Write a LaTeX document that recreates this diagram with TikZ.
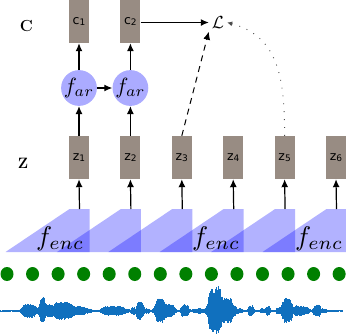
\documentclass[tikz,border=0pt]{standalone}
\usepackage{fontspec}
\newfontfamily\dejavu{DejaVu Sans}
\usetikzlibrary{arrows.meta}
\definecolor{boxgray}{RGB}{152,140,131}
\definecolor{wave}{RGB}{16,112,190}
\definecolor{dotgreen}{RGB}{0,128,0}
\tikzset{
 vec/.style={fill=boxgray, minimum width=20pt, minimum height=43pt, inner sep=0pt, font=\dejavu\fontsize{12.5}{12.5}\selectfont},
 arnode/.style={circle, fill=blue!33, minimum size=35pt, inner sep=0pt},
 arr/.style={-{Latex[length=8pt,width=7pt]}, line width=1.2pt},
 enc/.style={fill=blue, fill opacity=0.3, draw=none},
 enclabel/.style={inner sep=0pt, anchor=west},
 rowlabel/.style={inner sep=0pt},
 gdot/.style={fill=dotgreen, draw=none},
}
\newcommand{\sub}[1]{\raisebox{-0.25ex}{\fontsize{9}{9}\selectfont #1}}
\begin{document}
\begin{tikzpicture}[x=1pt,y=-1pt]
\useasboundingbox (0,0) rectangle (346,333);
% encoder trapezoids
\foreach \i in {0,...,5}{
  \pgfmathsetmacro\R{89.5+51.4*\i}
  \fill[enc] (\R-84,252) -- (\R-20,209) -- (\R,209) -- (\R,252) -- cycle;
  \coordinate (e\i) at (\R-10,209);
}
\node[enclabel] (fe1) at (36,239) {\scalebox{2.7}{$f_{enc}$}};
\node[enclabel] (fe2) at (192,239) {\scalebox{2.7}{$f_{enc}$}};
\node[enclabel] (fe3) at (295,239) {\scalebox{2.7}{$f_{enc}$}};
% z boxes
\foreach \i in {1,...,6}{
  \pgfmathsetmacro\cx{79+51.4*(\i-1)}
  \node[vec] (z\i) at (\cx,157.5) {z\sub{\i}};
}
\foreach \i [evaluate=\i as \j using int(\i-1)] in {1,...,6}{
  \draw[arr] (e\j) -- (z\i.south);
}
% context boxes
\node[vec] (c1) at (79,21.5) {c\sub{1}};
\node[vec] (c2) at (130.4,21.5) {c\sub{2}};
% autoregressive
\node[arnode] (a1) at (79,88) {\scalebox{2.2}{$f_{ar}$}};
\node[arnode] (a2) at (130.4,88) {\scalebox{2.2}{$f_{ar}$}};
\draw[arr] (z1.north) -- (a1.south);
\draw[arr] (z2.north) -- (a2.south);
\draw[arr] (a1.north) -- (c1.south);
\draw[arr] (a2.north) -- (c2.south);
\draw[arr] (a1.east) -- (a2.west);
% loss
\node[inner sep=3pt] (L) at (218,22.5) {\scalebox{1.75}{$\mathcal{L}$}};
\draw[arr, line width=1pt] (c2.east |- L.west) -- (L.west);
\draw[arr, line width=1pt, dash pattern=on 6pt off 5pt] (z3.north) -- (L.south west);
\draw[-{Latex[length=5pt,width=5pt]}, line width=0.9pt, dash pattern=on 0.9pt off 7pt, black!70] (z5.north) to[out=90, in=-15, looseness=1.1] (L.east);
% row labels
\node[rowlabel, font=\bfseries\fontsize{16}{16}\selectfont] (C) at (26.5,26) {C};
\node[rowlabel, font=\bfseries\fontsize{15}{15}\selectfont] (Z) at (23,163) {Z};
% green dots
\foreach \i in {0,...,13}{
  \fill[gdot] (7+25.55*\i,274) ellipse (6.5pt and 7pt);
}
% waveform
\pgfmathsetseed{11}
\foreach \x in {0,0.8,...,343}{
  \pgfmathsetmacro\e{0.6
   + 7/(1+min(abs(\x-29)/7,4)^6) + 12/(1+min(abs(\x-42)/3,4)^6)
   + 5/(1+min(abs(\x-48)/4,4)^6) + 9/(1+min(abs(\x-62)/9,4)^6)
   + 4/(1+min(abs(\x-78)/7,4)^6) + 1.5/(1+min(abs(\x-88)/4,4)^6)
   + 4.5/(1+min(abs(\x-114)/12,4)^6)
   + 3/(1+min(abs(\x-133)/2,4)^6)
   + 9/(1+min(abs(\x-140)/3.5,4)^6) + 2/(1+min(abs(\x-147)/3,4)^6)
   + 12/(1+min(abs(\x-160)/5,4)^6) + 6/(1+min(abs(\x-170)/5,4)^6)
   + 6/(1+min(abs(\x-185)/4,4)^6) + 1.5/(1+min(abs(\x-196)/4,4)^6)
   + 1.5/(1+min(abs(\x-201)/3,4)^6)
   + 22/(1+min(abs(\x-214)/6,4)^6) + 12/(1+min(abs(\x-225)/7,4)^6)
   + 4/(1+min(abs(\x-233)/3,4)^6) + 2/(1+min(abs(\x-240)/3,4)^6)
   + 5/(1+min(abs(\x-251)/3,4)^6) + 2/(1+min(abs(\x-262)/2,4)^6)
   + 4.5/(1+min(abs(\x-268)/2.5,4)^6) + 2.5/(1+min(abs(\x-278)/2,4)^6)
   + 13/(1+min(abs(\x-287)/5,4)^6) + 5/(1+min(abs(\x-299)/5,4)^6)
   + 3/(1+min(abs(\x-307)/3,4)^6) + 6/(1+min(abs(\x-317)/3.5,4)^6)
   + 1.5/(1+min(abs(\x-324)/3,4)^6)}
  \pgfmathsetmacro\h{\e*(0.78+0.22*rnd)}
  \pgfmathsetmacro\g{\e*(0.72+0.22*rnd)}
  \draw[wave, line width=0.9pt] (\x,311-\h) -- (\x,311+\g);
}
\end{tikzpicture}
\end{document}
